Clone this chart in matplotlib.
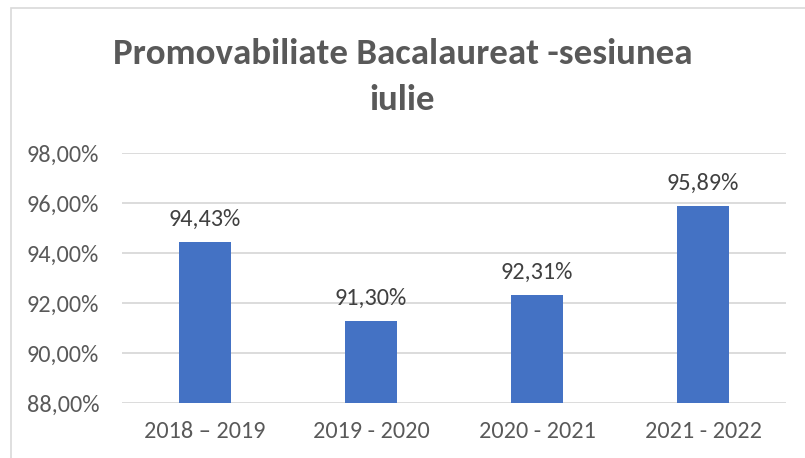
import matplotlib
matplotlib.use("Agg")
import matplotlib.pyplot as plt
from matplotlib import font_manager
from matplotlib.patches import Rectangle

# date
sesiuni = ["2018 – 2019", "2019 - 2020", "2020 - 2021", "2021 - 2022"]
promovare = [94.43, 91.30, 92.31, 95.89]
y_ticks = [88, 90, 92, 94, 96, 98]
titlu = ["Promovabiliate Bacalaureat -sesiunea", "iulie"]

instalate = {f.name for f in font_manager.fontManager.ttflist}
familii = [f for f in ["Carlito", "Liberation Sans Narrow", "Open Sans"] if f in instalate] + ["DejaVu Sans"]
plt.rcParams["font.family"] = familii

def procent(v):
    return f"{v:.2f}%".replace(".", ",")

W, H = 805, 458
fig = plt.figure(figsize=(W / 100, H / 100), dpi=100)
fig.patch.set_facecolor("white")

# chenarul graficului (doar stanga si sus se vad)
fig.patches.append(Rectangle((11 / W, -0.1), 1.2, (H - 8) / H + 0.1, transform=fig.transFigure,
                             fill=False, edgecolor="#d9d9d9", lw=1.2))

ax = fig.add_axes([122 / W, (H - 403) / H, (786 - 122) / W, (403 - 153) / H])
x = range(len(sesiuni))
ax.bar(x, [v - 88 for v in promovare], bottom=88, width=0.31, color="#4472C4", zorder=3)
ax.set_xlim(-0.5, len(sesiuni) - 0.5)
ax.set_ylim(88, 98)
ax.set_yticks(y_ticks)
ax.set_yticklabels([procent(t) for t in y_ticks], fontsize=17.5, color="#595959")
ax.set_xticks(list(x))
ax.set_xticklabels(sesiuni, fontsize=17.5, color="#595959")
ax.tick_params(axis="both", length=0)
ax.tick_params(axis="y", pad=16.5)
ax.tick_params(axis="x", pad=13)
ax.grid(axis="y", color="#d9d9d9", lw=1.3, zorder=0)
for s in ax.spines.values():
    s.set_visible(False)

for i, v in enumerate(promovare):
    ax.text(i, v + 0.48, procent(v), ha="center", va="bottom", fontsize=17.5, color="#404040")

fig.text(0.5, (H - 64) / H, titlu[0], ha="center", va="baseline", fontsize=26.6, fontweight="bold",
         color="#595959")
fig.text(0.5, (H - 110) / H, titlu[1], ha="center", va="baseline", fontsize=26.6, fontweight="bold",
         color="#595959")

fig.savefig("out.png", dpi=100)
